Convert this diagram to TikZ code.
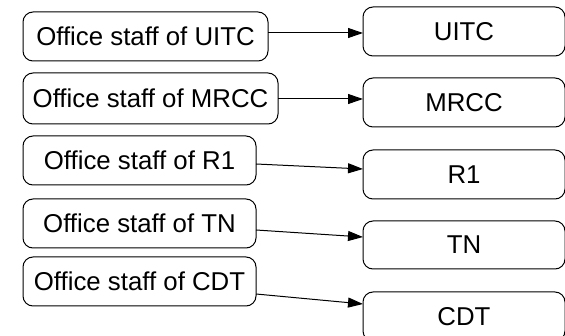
\documentclass[tikz,border=0pt]{standalone}
\usepackage{fontspec}
\setmainfont{Liberation Sans}
\usetikzlibrary{arrows.meta}
\begin{document}
\begin{tikzpicture}[x=1pt,y=-1pt,
  box/.style={draw=black, line width=1pt, rounded corners=10pt, inner sep=0pt, outer sep=0pt,
    anchor=north west, align=center, font=\fontsize{25.8}{30}\selectfont},
  conn/.style={line width=1pt, -{Triangle[length=15pt,width=10pt]}}]
\useasboundingbox (0,0) rectangle (565,336);
\clip (0,0) rectangle (565,336);
\node[box, minimum width=245pt, minimum height=49pt] (l1) at (23,12) {Office staff of UITC};
\node[box, minimum width=255pt, minimum height=51pt] (l2) at (23,73) {Office staff of MRCC};
\node[box, minimum width=233pt, minimum height=49pt] (l3) at (23,136) {Office staff of R1};
\node[box, minimum width=233pt, minimum height=49pt] (l4) at (23,199) {Office staff of TN};
\node[box, minimum width=233pt, minimum height=49pt] (l5) at (23,257) {Office staff of CDT};
\node[box, minimum width=202pt, minimum height=49pt] (r1) at (363,7) {UITC};
\node[box, minimum width=202pt, minimum height=49pt] (r2) at (363,78) {MRCC};
\node[box, minimum width=202pt, minimum height=49pt] (r3) at (363,150) {R1};
\node[box, minimum width=202pt, minimum height=48pt] (r4) at (363,221) {TN};
\node[box, minimum width=202pt, minimum height=49pt] (r5) at (363,292) {CDT};
\draw[conn] ([yshift=3.5pt]l1.east) -- ([yshift=-1.5pt]r1.west);
\draw[conn] ([yshift=-0.5pt]l2.east) -- ([yshift=3.5pt]r2.west);
\draw[conn] ([yshift=-3.5pt]l3.east) -- ([yshift=5.5pt]r3.west);
\draw[conn] ([yshift=-6.5pt]l4.east) -- ([yshift=8pt]r4.west);
\draw[conn] ([yshift=-12.5pt]l5.east) -- ([yshift=12.5pt]r5.west);
\end{tikzpicture}
\end{document}
